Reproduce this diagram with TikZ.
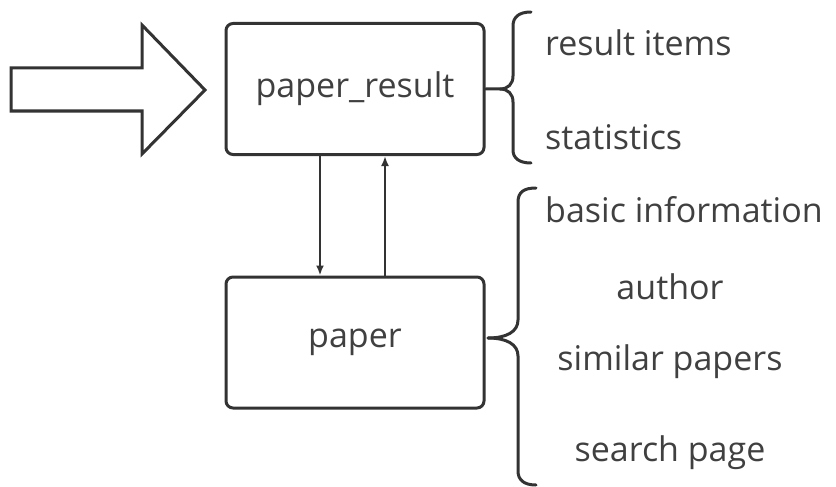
\documentclass[tikz,border=0pt]{standalone}
\usepackage{fontspec}
\setmainfont{Open Sans}
\usetikzlibrary{arrows.meta}
\definecolor{ink}{HTML}{333333}
\definecolor{txt}{HTML}{404040}
\tikzset{
  box/.style={draw=ink, line width=3pt, rounded corners=7pt, minimum width=258pt,
    minimum height=131pt, text=txt, font=\fontsize{34}{40}\selectfont},
  item/.style={text=txt, font=\fontsize{34}{40}\selectfont, inner sep=0pt},
  link/.style={draw=ink, line width=2pt, -{Latex[length=10pt,width=8pt]}},
  brace/.style={draw=ink, line width=3pt, line cap=round}
}
\begin{document}
\begin{tikzpicture}[x=1pt,y=-1pt]
  \useasboundingbox (0,0) rectangle (836,487);
  \draw[ink, line width=3pt, line join=miter]
    (11,68) -- (142,68) -- (142,25) -- (205,90) -- (142,154) -- (142,111) -- (11,111) -- cycle;
  \node[box] (result) at (355,89) {paper\_result};
  \node[box] (paper) at (355,342.5) {paper};
  \node[item, anchor=west] (items) at (545,43) {result items};
  \node[item, anchor=west] (stats) at (545,137) {statistics};
  \node[item, anchor=west] (basic) at (545,210) {basic information};
  \node[item] (author) at (670,287) {author};
  \node[item] (similar) at (670,362) {similar papers};
  \node[item] (search) at (670,453) {search page};
  \coordinate (tip1) at (500,89);
  \coordinate (tip2) at (488,338);
  \begin{scope}[link]
    \draw ([xshift=-35pt]result.south) -- ([xshift=-35pt]paper.north);
    \draw ([xshift=30pt]paper.north) -- ([xshift=30pt]result.south);
  \end{scope}
  \begin{scope}[brace]
    \draw (result.east) -- (tip1) .. controls (508,89) and (513,84) .. (513,76) -- (513,26)
      .. controls (513,17) and (519,12) .. (531,12);
    \draw (tip1) .. controls (508,89) and (513,94) .. (513,102) -- (513,150)
      .. controls (513,158) and (519,163) .. (531,163);
    \draw (tip2) .. controls (506,338) and (518,332) .. (518,320) -- (518,202)
      .. controls (518,192) and (524,188) .. (536,188);
    \draw (tip2) .. controls (506,338) and (518,344) .. (518,356) -- (518,471)
      .. controls (518,480) and (524,485) .. (536,485);
  \end{scope}
\end{tikzpicture}
\end{document}
